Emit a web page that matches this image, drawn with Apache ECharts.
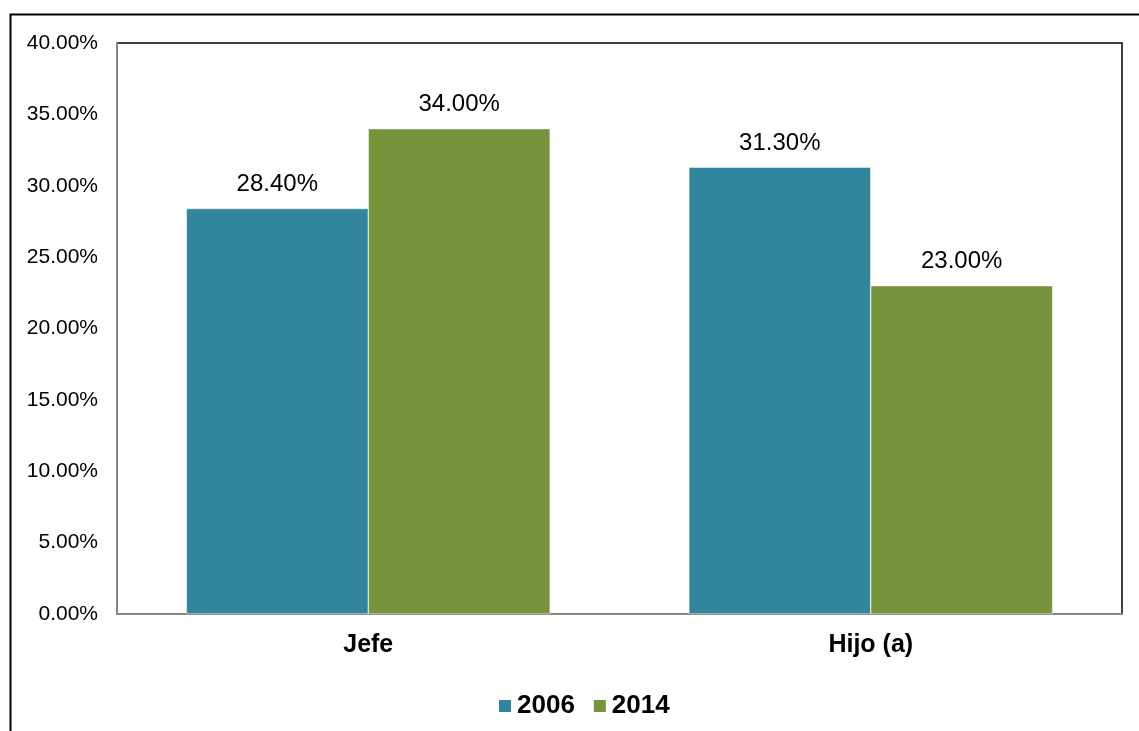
<!DOCTYPE html>
<html>
<head>
<meta charset="utf-8">
<script src="https://cdn.jsdelivr.net/npm/echarts@6/dist/echarts.min.js"></script>
<style>
  html, body { margin: 0; padding: 0; background: #fff; }
  #chart { width: 1139px; height: 731px; }
</style>
</head>
<body>
<div id="chart"></div>
<script>
var categories = ["Jefe", "Hijo (a)"];
var years = ["2006", "2014"];
var values2006 = [28.4, 31.3];
var values2014 = [34.0, 23.0];

var myChart = echarts.init(document.getElementById("chart"));

var labelStyle = {
  show: true,
  position: "top",
  distance: 12,
  color: "#000",
  fontSize: 24,
  fontFamily: "Liberation Sans",
  formatter: function (p) { return p.value.toFixed(2) + "%"; }
};

var option = {
  backgroundColor: "#fff",
  animation: false,
  textStyle: { fontFamily: "Liberation Sans" },
  graphic: [
    {
      type: "rect",
      left: 8,
      top: 12,
      shape: { width: 1200, height: 800 },
      style: { fill: "none", stroke: "#000", lineWidth: 2 },
      z: -10
    }
  ],
  grid: {
    left: 117,
    top: 43,
    right: 17,
    bottom: 117,
    show: true,
    borderColor: "#000",
    borderWidth: 1.5
  },
  legend: {
    data: years,
    left: 497,
    top: 688,
    padding: [5, 0, 0, 0],
    itemWidth: 14,
    itemHeight: 14,
    itemGap: 17,
    icon: "rect",
    textStyle: { color: "#000", fontSize: 26, fontWeight: "bold", fontFamily: "Liberation Sans" }
  },
  xAxis: {
    type: "category",
    data: categories,
    axisLine: { lineStyle: { color: "#868686", width: 2 } },
    axisTick: { show: false },
    axisLabel: { color: "#000", fontSize: 25, fontWeight: "bold", margin: 19 }
  },
  yAxis: {
    type: "value",
    min: 0,
    max: 40,
    interval: 5,
    splitLine: { show: false },
    axisLine: { show: true, lineStyle: { color: "#868686", width: 2 } },
    axisTick: { show: false },
    axisLabel: {
      color: "#000",
      fontSize: 21,
      margin: 19,
      formatter: function (v) { return v.toFixed(2) + "%"; }
    }
  },
  series: [
    {
      name: "2006",
      type: "bar",
      data: values2006,
      barGap: "0%",
      barCategoryGap: "27.6%",
      itemStyle: { color: "#31859C", borderColor: "#ffffff", borderWidth: 0.5 },
      label: labelStyle
    },
    {
      name: "2014",
      type: "bar",
      data: values2014,
      itemStyle: { color: "#77933C", borderColor: "#ffffff", borderWidth: 0.5 },
      label: labelStyle
    }
  ]
};

myChart.setOption(option);
</script>
</body>
</html>
